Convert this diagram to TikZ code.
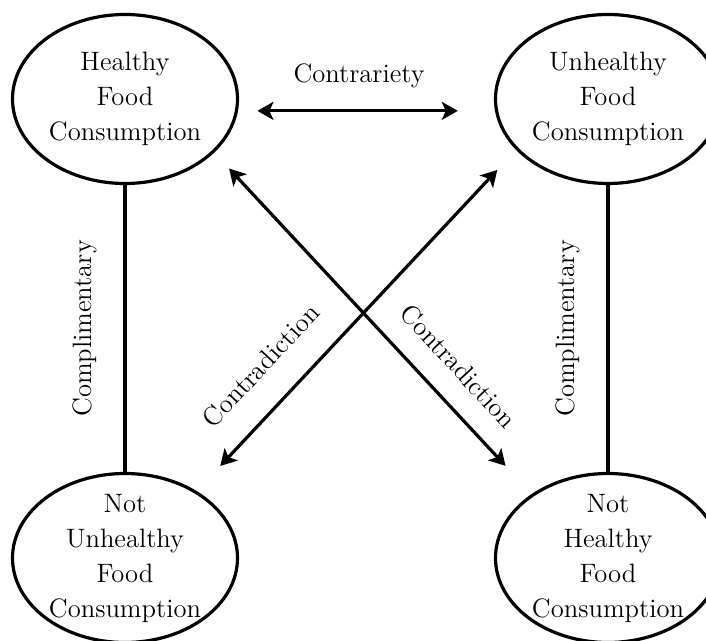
\documentclass[tikz,border=0pt]{standalone}
\usetikzlibrary{arrows.meta,positioning,shapes.geometric}

\begin{document}
\begin{tikzpicture}[x = 0.5pt, y = -0.5pt, >={Stealth[length=8pt, width=9pt, inset=2pt]}, font = \fontsize{13.3}{17.5}\selectfont]
	\tikzstyle{food} = [ellipse, draw = black, line width = 1.6pt, align = center, inner sep = -30pt, minimum width = 112.5pt, minimum height = 84.5pt]
	\tikzstyle{rel} = [<->, line width = 1.6pt]
	\tikzstyle{link} = [line width = 2.2pt]
	\useasboundingbox (0,0) rectangle (706,641);
	\clip (0,0) rectangle (706,641);
    \begin{scope}[node distance = 241.5pt]
	    \node [food] (HF) at (125,99) {Healthy\\Food\\Consumption};
	    \node [food] (UF) [right of = HF] {Unhealthy\\Food\\Consumption};
      \node [food] (NU) [below of = HF, node distance = 229.5pt] {Not\\Unhealthy\\Food\\Consumption};
      \node [food] (NH) [right of = NU] {Not\\Healthy\\Food\\Consumption};
      \draw [rel, shorten <=9.7pt, shorten >=18.6pt] (HF.-6.6) -- node [above = 7.3pt, pos = 0.471] (ctr) {Contrariety} (UF.186.6);
      \draw [link] (NU) -- node [sloped, above = 9.8pt] (cpL) {Complimentary} (HF);
      \draw [link] (NH) -- node [sloped, above = 9.8pt] (cpR) {Complimentary} (UF);
      \draw [rel, shorten <=10.9pt, shorten >=19.2pt] (HF.-31) -- node [sloped, above = 7.8pt, pos = 0.692] (cdA) {Contradiction} (NH.140.4);
      \draw [rel, shorten <=17.2pt, shorten >=13.7pt] (NU.43) -- node [sloped, above = 10.5pt, pos = 0.29] (cdB) {Contradiction} (UF.209.5);
    \end{scope}
\end{tikzpicture}
\end{document}
